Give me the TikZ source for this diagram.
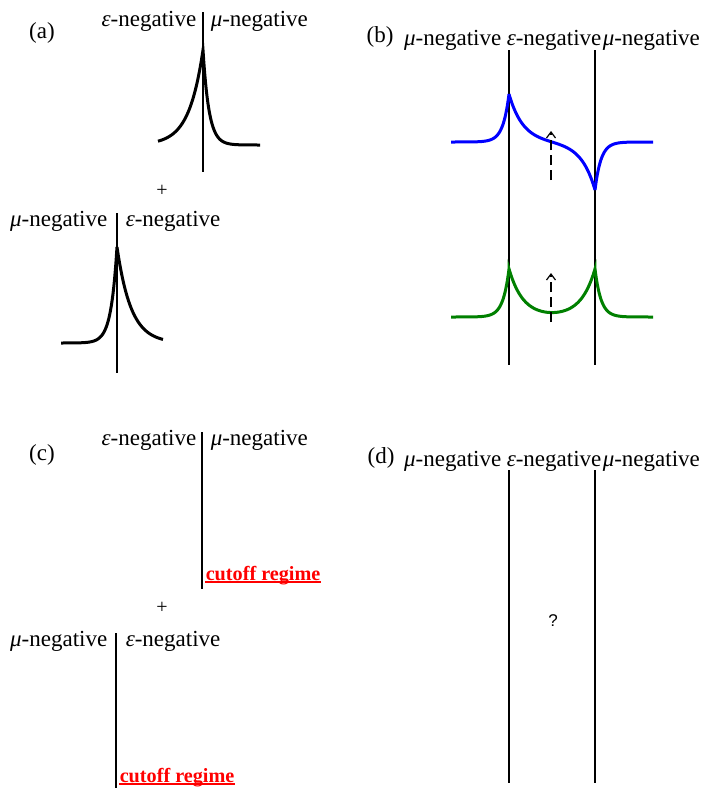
\documentclass[tikz,border=0pt]{standalone}
\usepackage{fontspec}
\setmainfont{Liberation Serif}
\setsansfont{Liberation Sans}
\usetikzlibrary{arrows.meta}
\definecolor{cblue}{HTML}{0000FF}
\definecolor{cgreen}{HTML}{008000}
\definecolor{cred}{HTML}{FF0000}
\tikzset{
  every picture/.style={x=0.5pt, y=-0.5pt, line width=0.75pt},
  side/.style={font=\fontsize{11.5}{13}\selectfont, inner sep=0pt},
  tag/.style={font=\fontsize{11.5}{13}\selectfont, inner sep=0pt, anchor=base},
  plus/.style={font=\fontsize{10}{11}\selectfont, inner sep=0pt},
  cutoff/.style={font=\fontsize{10.1}{12}\selectfont\bfseries, text=cred, inner sep=0pt, anchor=base west},
  underbar/.style={draw=cred, line width=0.7pt},
  iface/.style={line width=1pt},
  thiniface/.style={line width=0.75pt},
  field/.style={line width=1.5pt},
  probe/.style={-{Straight Barb[length=3pt,width=4.5pt]}, dash pattern=on 5pt off 2.5pt, line width=0.6pt},
}
\newcommand{\eneg}{\textit{ε}-negative}
\newcommand{\mneg}{\textit{μ}-negative}

\begin{document}
\begin{tikzpicture}
  \useasboundingbox (0,0) rectangle (703,788);
  % (a)
  \node[tag] (taga) at (42,38) {(a)};
  \coordinate (a1t) at (203,12); \coordinate (a1b) at (203,172);
  \draw[iface] (a1t) -- (a1b);
  \node[side, anchor=base east] (a1l) at (197,26) {\eneg};
  \node[side, anchor=base west] (a1r) at (210,26) {\mneg};
  \draw[field] plot[domain=158:203, samples=70] (\x,{145-95*exp(-(203-\x)/14)})
    -- plot[domain=203:260, samples=70] (\x,{145-95*exp(-(\x-203)/6)});
  \node[plus] (plusa) at (162,191) {+};
  \coordinate (a2t) at (117,213); \coordinate (a2b) at (117,373);
  \draw[iface] (a2t) -- (a2b);
  \node[side, anchor=base east] (a2l) at (108,226) {\mneg};
  \node[side, anchor=base west] (a2r) at (125,226) {\eneg};
  \draw[field] plot[domain=61:117, samples=70] (\x,{343-96*exp(-(117-\x)/6)})
    -- plot[domain=117:163, samples=70] (\x,{343-96*exp(-(\x-117)/14)});
  % (b)
  \node[tag] (tagb) at (380,42) {(b)};
  \node[side, anchor=base east] (b1) at (502,45) {\mneg};
  \node[side, anchor=base west] (b2) at (506,45) {\eneg};
  \node[side, anchor=base west] (b3) at (602,45) {\mneg};
  \coordinate (b1t) at (509,50); \coordinate (b1b) at (509,365);
  \coordinate (b2t) at (595,50); \coordinate (b2b) at (595,365);
  \draw[thiniface] (b1t) -- (b1b);
  \draw[thiniface] (b2t) -- (b2b);
  \draw[field, cblue] plot[domain=451:509, samples=70] (\x,{142-48*exp(-(509-\x)/6)})
    -- plot[domain=509:595, samples=90] (\x,{142-48*exp(-(\x-509)/14)+48*exp(-(595-\x)/14)})
    -- plot[domain=595:653, samples=70] (\x,{142+48*exp(-(\x-595)/6)});
  \draw[field, cgreen] plot[domain=451:509, samples=70] (\x,{317-48*exp(-(509-\x)/6)})
    -- plot[domain=509:595, samples=90] (\x,{317-48*exp(-(\x-509)/14)-48*exp(-(595-\x)/14)})
    -- plot[domain=595:653, samples=70] (\x,{317-48*exp(-(\x-595)/6)});
  \coordinate (p1s) at (551,180); \coordinate (p1e) at (551,131);
  \coordinate (p2s) at (551,322); \coordinate (p2e) at (551,273);
  \draw[probe] (p1s) -- (p1e);
  \draw[probe] (p2s) -- (p2e);
  % (c)
  \node[tag] (tagc) at (42,460) {(c)};
  \coordinate (c1t) at (202,432); \coordinate (c1b) at (202,589);
  \draw[iface] (c1t) -- (c1b);
  \node[side, anchor=base east] (c1l) at (197,445) {\eneg};
  \node[side, anchor=base west] (c1r) at (210,445) {\mneg};
  \node[cutoff] (cut1) at (205,580) {cutoff regime};
  \draw[underbar] ([yshift=-1pt]cut1.base west) -- ([yshift=-1pt]cut1.base east);
  \node[plus] (plusc) at (162,608) {+};
  \coordinate (c2t) at (116,633); \coordinate (c2b) at (116,788);
  \draw[iface] (c2t) -- (c2b);
  \node[side, anchor=base east] (c2l) at (108,646) {\mneg};
  \node[side, anchor=base west] (c2r) at (125,646) {\eneg};
  \node[cutoff] (cut2) at (119,782) {cutoff regime};
  \draw[underbar] ([yshift=-1pt]cut2.base west) -- ([yshift=-1pt]cut2.base east);
  % (d)
  \node[tag] (tagd) at (381,463) {(d)};
  \node[side, anchor=base east] (d1) at (502,466) {\mneg};
  \node[side, anchor=base west] (d2) at (506,466) {\eneg};
  \node[side, anchor=base west] (d3) at (602,466) {\mneg};
  \coordinate (d1t) at (509,470); \coordinate (d1b) at (509,783);
  \coordinate (d2t) at (595,470); \coordinate (d2b) at (595,783);
  \draw[thiniface] (d1t) -- (d1b);
  \draw[thiniface] (d2t) -- (d2b);
  \node[font=\sffamily\fontsize{8.5}{10}\selectfont, inner sep=0pt] (qd) at (553,621) {?};
\end{tikzpicture}
\end{document}
